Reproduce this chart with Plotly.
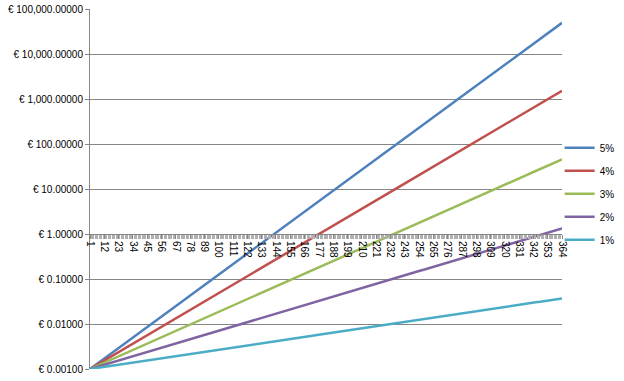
import plotly.graph_objects as go

# Data
days = list(range(1, 365))                 # categories 1..364
rates_pct = [5, 4, 3, 2, 1]                # legend series (daily compound rate, %)
series_names = ["5%", "4%", "3%", "2%", "1%"]
start_value = 0.001                        # all series start at € 0.00100
colors = ["#4F81BD", "#C0504D", "#9BBB59", "#8064A2", "#4BACC6"]

x_tick_vals = list(range(1, 365, 11))
x_tick_text = [str(v) for v in x_tick_vals]

y_tick_vals = [0.001, 0.01, 0.1, 1, 10, 100, 1000, 10000, 100000]
y_tick_text = ["€ 0.00100", "€ 0.01000", "€ 0.10000", "€ 1.00000", "€ 10.00000",
               "€ 100.00000", "€ 1,000.00000", "€ 10,000.00000", "€ 100,000.00000"]

fig = go.Figure()
for name, r, c in zip(series_names, rates_pct, colors):
    vals = [start_value * (1 + r / 100.0) ** (d - 1) for d in days]
    fig.add_trace(go.Scatter(x=days, y=vals, mode="lines", name=name,
                             legendgroup=name,
                             line=dict(color=c, width=2.5)))

font_family = "Liberation Sans, Arial, sans-serif"

fig.update_layout(
    width=624, height=381,
    margin=dict(l=90, r=62, t=9, b=12, autoexpand=False),
    paper_bgcolor="white", plot_bgcolor="white",
    font=dict(family=font_family, size=10, color="#000000"),
    showlegend=True,
    legend=dict(x=0.995, y=0.655, xanchor="left", yanchor="top",
                font=dict(size=10), traceorder="grouped", tracegroupgap=4,
                bgcolor="rgba(0,0,0,0)", itemwidth=30),
    xaxis=dict(
        range=[1, 364], tickmode="array", tickvals=x_tick_vals, ticktext=x_tick_text,
        tickangle=90, showgrid=False, zeroline=False, automargin=False,
        showline=True, linecolor="#868686", linewidth=1,
        ticks="outside", ticklen=4, tickcolor="#868686",
        minor=dict(tickmode="linear", tick0=1, dtick=1, ticks="outside",
                   ticklen=4, tickcolor="#B0B0B0"),
        anchor="free", position=0.375,
        tickfont=dict(size=10),
    ),
    yaxis=dict(
        type="log", range=[-3, 5], tickmode="array",
        tickvals=y_tick_vals, ticktext=y_tick_text, automargin=False,
        showgrid=True, gridcolor="#868686", gridwidth=1,
        showline=True, linecolor="#868686", linewidth=1,
        ticks="outside", ticklen=4, tickcolor="#868686",
        zeroline=False, tickfont=dict(size=10),
    ),
)

fig.write_html("out.html", config={"displayModeBar": False},
               post_script="document.body.style.margin='0';document.body.style.padding='0';")
